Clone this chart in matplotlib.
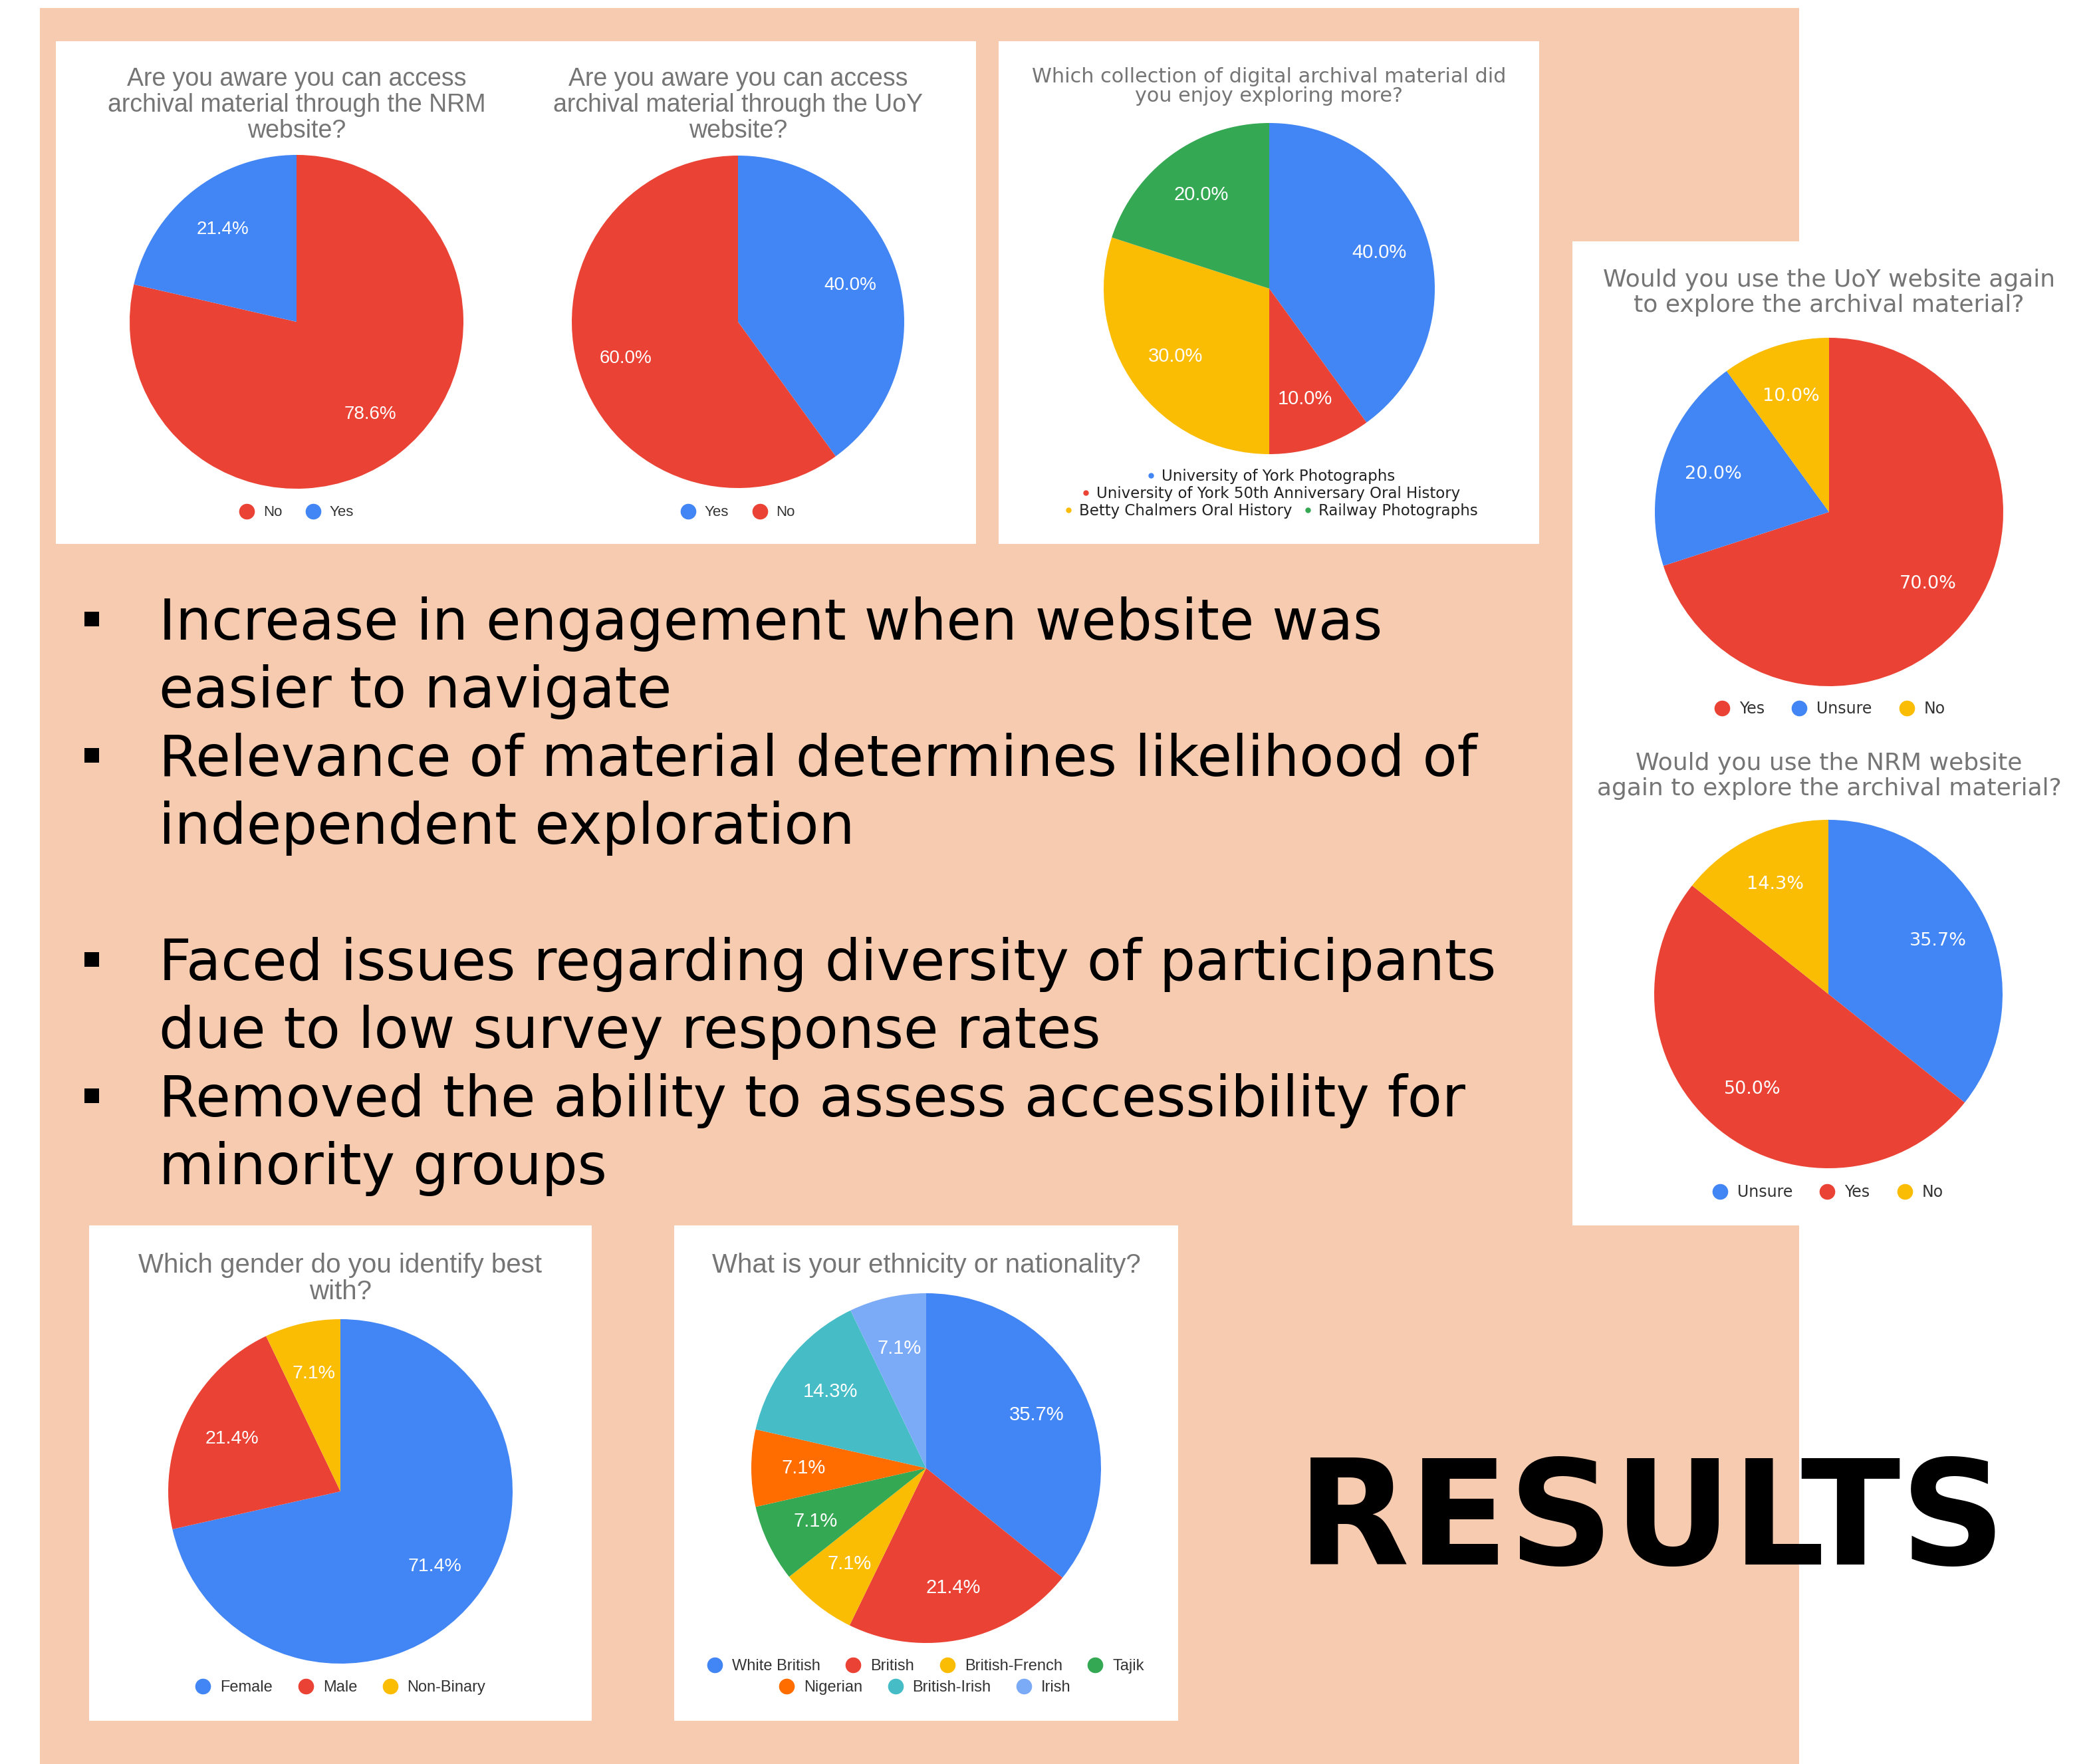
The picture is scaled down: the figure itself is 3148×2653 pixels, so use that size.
import matplotlib
matplotlib.use("Agg")
import matplotlib.pyplot as plt
from matplotlib.patches import Rectangle
from matplotlib.lines import Line2D

W, H = 3148, 2653

BLUE = "#4285F4"
RED = "#EA4335"
YELLOW = "#FBBC04"
GREEN = "#34A853"
ORANGE = "#FF6D01"
TEAL = "#46BDC6"
LBLUE = "#7BAAF7"
PEACH = "#F7CBAF"
TITLE_GREY = "#757575"

# survey results (percent)
nrm_aware_labels = ["No", "Yes"]
nrm_aware_vals = [78.6, 21.4]
uoy_aware_labels = ["Yes", "No"]
uoy_aware_vals = [40.0, 60.0]
collection_labels = ["University of York Photographs",
                     "University of York 50th Anniversary Oral History",
                     "Betty Chalmers Oral History", "Railway Photographs"]
collection_vals = [40.0, 10.0, 30.0, 20.0]
uoy_again_labels = ["Yes", "Unsure", "No"]
uoy_again_vals = [70.0, 20.0, 10.0]
nrm_again_labels = ["Unsure", "Yes", "No"]
nrm_again_vals = [35.7, 50.0, 14.3]
gender_labels = ["Female", "Male", "Non-Binary"]
gender_vals = [71.4, 21.4, 7.1]
eth_labels = ["White British", "British", "British-French", "Tajik",
              "Nigerian", "British-Irish", "Irish"]
eth_vals = [35.7, 21.4, 7.1, 7.1, 7.1, 14.3, 7.1]

bullet_lines = [
    ("Increase in engagement when website was", True),
    ("easier to navigate", False),
    ("Relevance of material determines likelihood of", True),
    ("independent exploration", False),
    (None, False),
    ("Faced issues regarding diversity of participants", True),
    ("due to low survey response rates", False),
    ("Removed the ability to assess accessibility for", True),
    ("minority groups", False),
]

fig = plt.figure(figsize=(W / 100, H / 100), dpi=100)
fig.patch.set_facecolor("white")


def fx(x):
    return x / W


def fy(y):
    return 1 - y / H


def box(x0, y0, x1, y1, color):
    fig.add_artist(Rectangle((fx(x0), fy(y1)), (x1 - x0) / W, (y1 - y0) / H,
                             transform=fig.transFigure, color=color, zorder=0, lw=0))


def pie(cx, cy, r, vals, colors, family, fs=20, dist=0.71):
    ax = fig.add_axes([fx(cx - r), fy(cy + r), 2 * r / W, 2 * r / H])
    txt = iter([f"{v:.1f}%" for v in vals])
    ax.pie(vals, colors=colors, startangle=90, counterclock=False,
           autopct=lambda p: next(txt), pctdistance=dist,
           wedgeprops=dict(linewidth=0),
           textprops=dict(color="white", fontsize=fs, family=family))
    ax.set_xlim(-1, 1)
    ax.set_ylim(-1, 1)
    return ax


def title(cx, cy, s, family, fs, ls=1.1):
    fig.text(fx(cx), fy(cy), s, ha="center", va="center", color=TITLE_GREY,
             fontsize=fs, family=family, linespacing=ls)


def legend(cx, cy, labels, colors, family, fs=16, ms=16, tc="#333333", pad=0.6, col=1.6):
    handles = [Line2D([0], [0], marker="o", ls="", color=c, markersize=ms) for c in colors]
    fig.legend(handles, labels, loc="center", bbox_to_anchor=(fx(cx), fy(cy)),
               ncol=len(labels), frameon=False, handletextpad=pad, columnspacing=col,
               handlelength=1.0, borderpad=0, prop=dict(family=family, size=fs),
               labelcolor=tc)


# backgrounds
box(60, 12, 2706, H, PEACH)
box(84, 62, 1468, 818, "white")
box(1502, 62, 2315, 818, "white")
box(2365, 363, W, 1843, "white")
box(134, 1843, 890, 2588, "white")
box(1014, 1843, 1772, 2588, "white")

ARIAL = "Liberation Sans"
VERD = "DejaVu Sans"

# awareness charts
title(446, 158, "Are you aware you can access\narchival material through the NRM\nwebsite?", ARIAL, 27)
pie(446, 484, 251, nrm_aware_vals, [RED, BLUE], ARIAL)
legend(446, 771, nrm_aware_labels, [RED, BLUE], ARIAL)

title(1110, 158, "Are you aware you can access\narchival material through the UoY\nwebsite?", ARIAL, 27)
pie(1110, 484, 250, uoy_aware_vals, [BLUE, RED], ARIAL)
legend(1110, 771, uoy_aware_labels, [BLUE, RED], ARIAL)

# collection chart
title(1909, 130, "Which collection of digital archival material did\nyou enjoy exploring more?", VERD, 21.8, 0.98)
pie(1909, 434, 249, collection_vals, [BLUE, RED, YELLOW, GREEN], ARIAL, fs=21, dist=0.70)
legend(1909, 717, collection_labels[:1], [BLUE], VERD, fs=16.5, ms=5, tc="#222222", pad=0.2)
legend(1909, 743, collection_labels[1:2], [RED], VERD, fs=16.5, ms=5, tc="#222222", pad=0.2)
legend(1909, 769, collection_labels[2:], [YELLOW, GREEN], VERD, fs=16.5, ms=5, tc="#222222",
       pad=0.2, col=0.5)

# would you use again
title(2751, 440, "Would you use the UoY website again\nto explore the archival material?", VERD, 26, 1.15)
pie(2751, 770, 262, uoy_again_vals, [RED, BLUE, YELLOW], VERD, fs=19.5, dist=0.70)
legend(2752, 1066, uoy_again_labels, [RED, BLUE, YELLOW], VERD, fs=17, col=1.7)

title(2751, 1167, "Would you use the NRM website\nagain to explore the archival material?", VERD, 26, 1.15)
pie(2750, 1495, 262, nrm_again_vals, [BLUE, RED, YELLOW], VERD, fs=19.5, dist=0.70)
legend(2749, 1793, nrm_again_labels, [BLUE, RED, YELLOW], VERD, fs=17, col=1.7)

# demographics
title(512, 1923, "Which gender do you identify best\nwith?", ARIAL, 29, 1.05)
pie(512, 2243, 259, gender_vals, [BLUE, RED, YELLOW], ARIAL, fs=20.5, dist=0.70)
legend(512, 2538, gender_labels, [BLUE, RED, YELLOW], ARIAL, fs=17)

title(1393, 1903, "What is your ethnicity or nationality?", ARIAL, 29)
eth_colors = [BLUE, RED, YELLOW, GREEN, ORANGE, TEAL, LBLUE]
pie(1393, 2208, 263, eth_vals, eth_colors, ARIAL, fs=21, dist=0.70)
legend(1392, 2506, eth_labels[:4], eth_colors[:4], ARIAL, fs=17)
legend(1391, 2538, eth_labels[4:], eth_colors[4:], ARIAL, fs=17)

# findings text
for i, (line, bullet) in enumerate(bullet_lines):
    if line is None:
        continue
    base = 962 + i * 102.4
    fig.text(fx(239), fy(base), line, ha="left", va="baseline", fontsize=61.3,
             family=VERD, color="black")
    if bullet:
        box(127, base - 42, 149, base - 20, "black")

fig.text(fx(1951), fy(2353), "RESULTS", ha="left", va="baseline", fontsize=158,
         family=VERD, weight="bold", color="black")

fig.savefig("out.png", dpi=100, facecolor=fig.get_facecolor())
